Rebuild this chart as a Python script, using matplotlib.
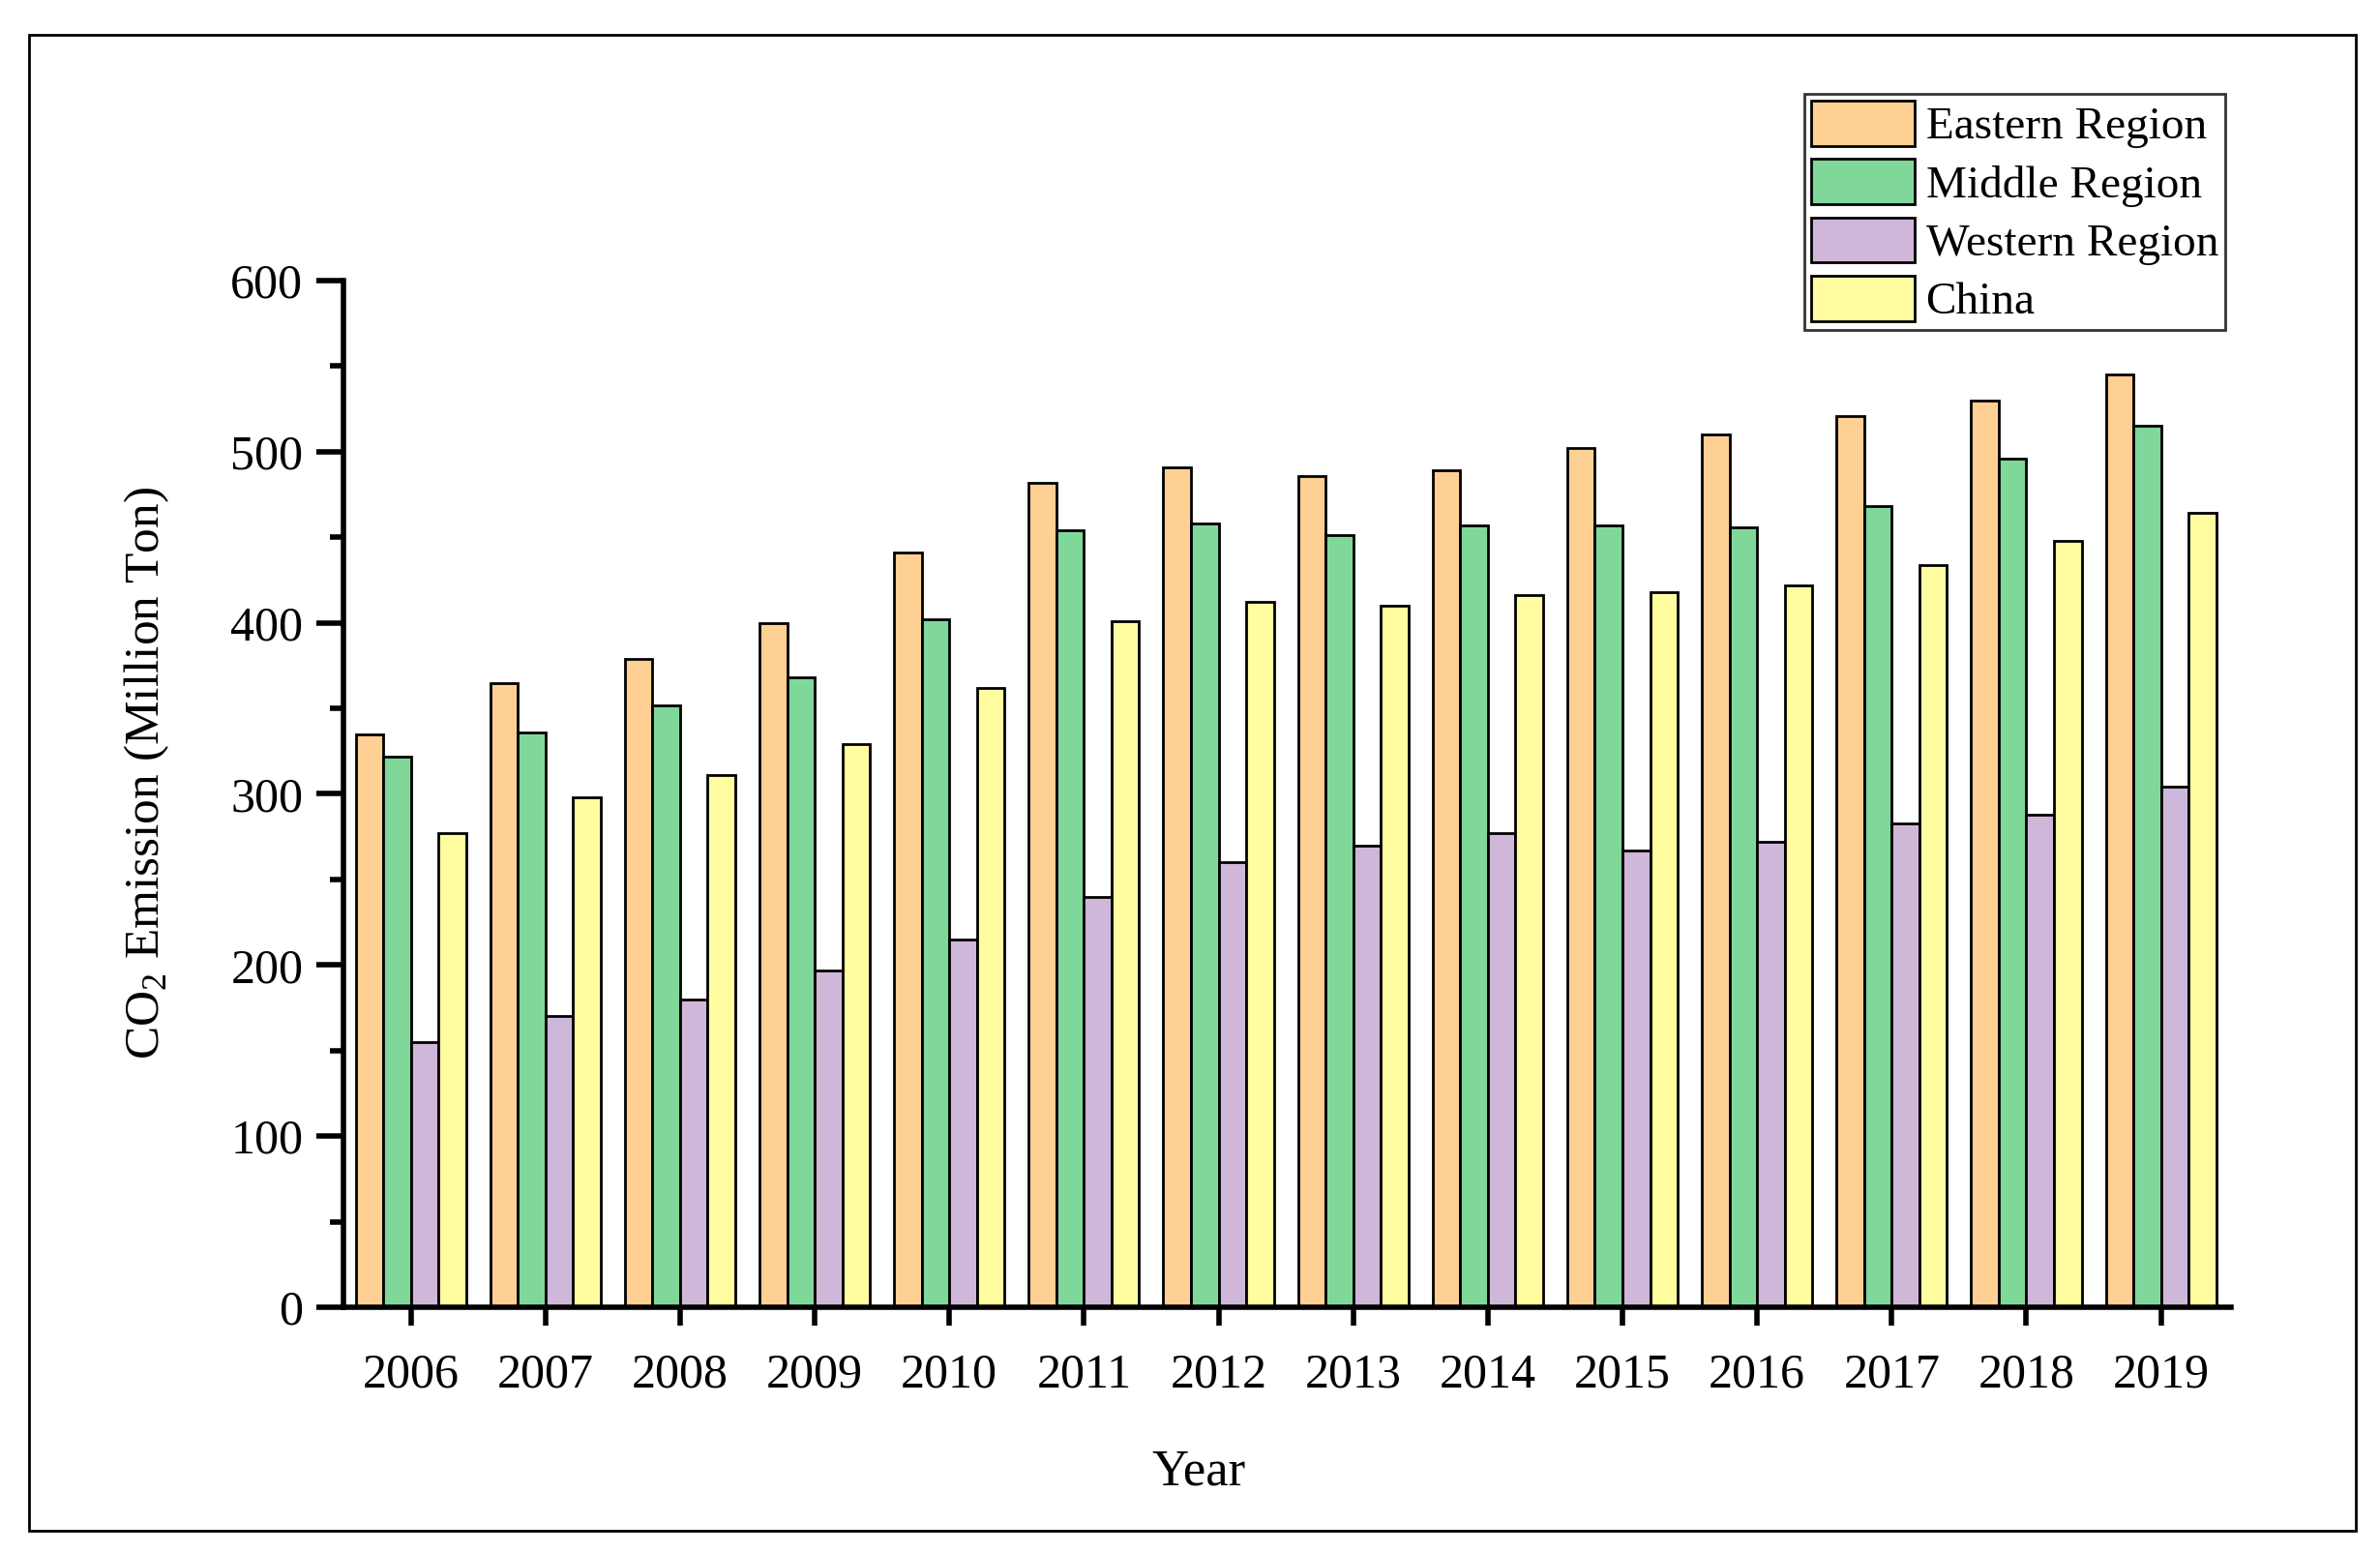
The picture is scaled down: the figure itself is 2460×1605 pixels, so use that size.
import numpy as np
import matplotlib
matplotlib.use("Agg")
import matplotlib.pyplot as plt
from matplotlib.patches import Rectangle

plt.rcParams['font.family'] = ['Liberation Serif', 'DejaVu Serif']

years = ['2006', '2007', '2008', '2009', '2010', '2011', '2012',
         '2013', '2014', '2015', '2016', '2017', '2018', '2019']
eastern = [335, 365, 379, 400, 441, 482, 491, 486, 489, 502, 510, 521, 530, 545]
middle = [322, 336, 352, 368, 402, 454, 458, 451, 457, 457, 456, 468, 496, 515]
western = [155, 170, 180, 197, 215, 240, 260, 270, 277, 267, 272, 283, 288, 304]
china = [277, 298, 311, 329, 362, 401, 412, 410, 416, 418, 422, 434, 448, 464]

series = [("Eastern Region", eastern, '#FFD093'),
          ("Middle Region", middle, '#7FD89A'),
          ("Western Region", western, '#CFB7D9'),
          ("China", china, '#FFFDA0')]

fig = plt.figure(figsize=(24.6, 16.05), dpi=100)
ax = fig.add_axes([0.1443, 0.1583, 0.9374 - 0.1443, 0.8193 - 0.1583])

x = np.arange(len(years))
w = 0.205
for i, (name, vals, col) in enumerate(series):
    ax.bar(x + (i - 1.5) * w, vals, width=w, color=col, edgecolor='black',
           linewidth=2, label=name)

ax.set_xlim(-0.5, 13.52)
ax.set_ylim(0, 600)
ax.set_xticks(x)
ax.set_xticklabels(years)
ax.set_yticks(np.arange(0, 601, 100))
ax.set_yticks(np.arange(50, 600, 100), minor=True)

for s in ['top', 'right']:
    ax.spines[s].set_visible(False)
for s in ['left', 'bottom']:
    ax.spines[s].set_linewidth(4)

ax.tick_params(axis='y', which='major', direction='out', length=20, width=4,
               labelsize=36, pad=10)
ax.tick_params(axis='y', which='minor', direction='out', length=10, width=4)
ax.tick_params(axis='x', which='major', direction='out', length=14, width=4,
               labelsize=36, pad=20)

ax.set_xlabel("Year", fontsize=38, labelpad=38)
ax.set_ylabel(r"CO$_\mathregular{2}$ Emission (Million Ton)", fontsize=37, labelpad=44)
# labels are not centred on the axes in the original
ax.xaxis.label.set_x(0.453)
ax.yaxis.label.set_y(0.52)

leg = ax.legend(loc='upper right', bbox_to_anchor=(0.935, 0.9396),
                bbox_transform=fig.transFigure, fontsize=34, frameon=True,
                fancybox=False, edgecolor='black', handlelength=2.25,
                handleheight=1.15, labelspacing=0.23, handletextpad=0.25,
                borderpad=0.15, borderaxespad=0)
leg.get_frame().set_linewidth(2)

fig.patches.append(Rectangle((0.0122, 0.0143), 0.9898 - 0.0122, 0.9776 - 0.0143,
                             transform=fig.transFigure, fill=False,
                             edgecolor='black', linewidth=2))

fig.savefig("out.png", dpi=100)
